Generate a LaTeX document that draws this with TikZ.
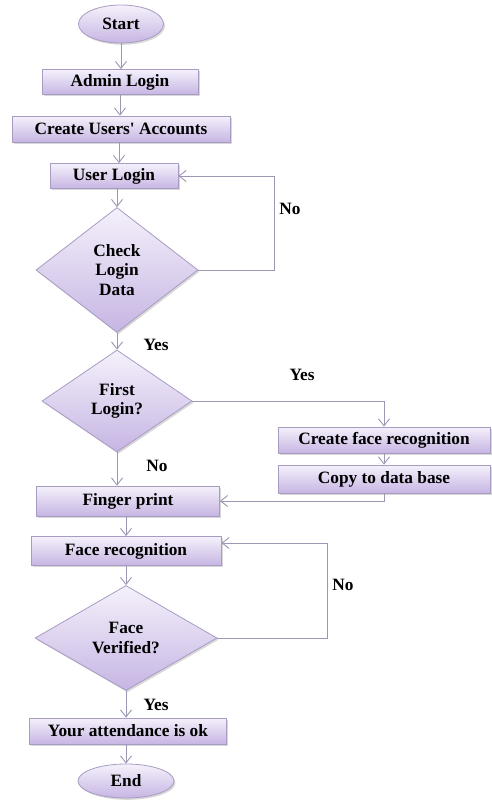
\documentclass[tikz,border=0pt]{standalone}
\usepackage{fontspec}
\setmainfont{Liberation Serif}
\usetikzlibrary{shapes.geometric,arrows.meta,shadows}
\definecolor{boxtop}{HTML}{F5F1FB}
\definecolor{boxbot}{HTML}{C6B5E3}
\definecolor{boxline}{HTML}{A89CC3}
\definecolor{arrline}{HTML}{9C97B2}
\tikzset{
  base/.style={draw=boxline, line width=0.8pt, top color=boxtop, bottom color=boxbot,
    font=\fontsize{17.3}{19.5}\selectfont\bfseries, align=center, inner sep=0pt,
    drop shadow={opacity=0.3, shadow xshift=1.5pt, shadow yshift=-1.8pt}},
  procbox/.style={base, rectangle},
  termbox/.style={base, ellipse},
  decbox/.style={base, diamond},
  arr/.style={draw=arrline, line width=0.9pt, -{Straight Barb[length=7pt,width=11pt]}},
  lbl/.style={font=\fontsize{17.3}{19.5}\selectfont\bfseries, inner sep=0pt}
}
\begin{document}
\begin{tikzpicture}[x=1pt,y=-1pt]
\fill[white] (0,0) rectangle (492,801);
\useasboundingbox (0,0) rectangle (492,801);
\node[termbox, minimum width=85pt, minimum height=38pt] (start) at (121,24) {Start};
\node[procbox, minimum width=156pt, minimum height=25pt] (admin) at (120,82) {Admin Login};
\node[procbox, minimum width=218pt, minimum height=26pt] (create) at (121,129) {Create Users\textquotesingle{} Accounts};
\node[procbox, minimum width=128pt, minimum height=25pt] (ulogin) at (114,176) {User Login};
\node[decbox, aspect=1.3, minimum width=162pt, minimum height=125pt] (check) at (117,270) {Check\\Login\\Data};
\node[decbox, aspect=1.47, minimum width=150pt, minimum height=102pt] (first) at (117,401) {First\\Login?};
\node[procbox, minimum width=212pt, minimum height=26pt] (cfr) at (384,440) {Create face recognition};
\node[procbox, minimum width=212pt, minimum height=28pt] (copy) at (384,479) {Copy to data base};
\node[procbox, minimum width=183pt, minimum height=30pt] (finger) at (128,501) {Finger print};
\node[procbox, minimum width=190pt, minimum height=29pt] (facerec) at (126,551) {Face recognition};
\node[decbox, aspect=1.73, minimum width=182pt, minimum height=105pt] (fv) at (126,638) {Face\\Verified?};
\node[procbox, minimum width=197pt, minimum height=26pt] (att) at (128,731) {Your attendance is ok};
\node[termbox, minimum width=96pt, minimum height=34pt] (end) at (126,781) {End};

\coordinate (c1) at (274,176);
\coordinate (c3) at (327,543);

\draw[arr] (start.south) -- (start.south |- admin.north);
\draw[arr] (admin.south) -- (admin.south |- create.north);
\draw[arr] (create.south -| ulogin.north) ++(5,0) -- ([xshift=5pt]ulogin.north);
\draw[arr] (ulogin.south) ++(3,0) -- (check.north);
\draw[arr] (check.south) -- (first.north);
\draw[arr] (check.east) -| (c1) -- (ulogin.east);
\draw[arr] (first.east) -| (cfr.north);
\draw[arr] (cfr.south) -- (copy.north);
\draw[arr] (copy.south) |- (finger.east);
\draw[arr] (first.south) -- (first.south |- finger.north);
\draw[arr] (finger.south -| facerec.north) -- (facerec.north);
\draw[arr] (facerec.south) -- (fv.north);
\draw[arr] (fv.east) -| (c3) -- (facerec.east |- c3);
\draw[arr] (fv.south) -- (fv.south |- att.north);
\draw[arr] (att.south -| end.north) -- (end.north);

\node[lbl] (l1) at (290,209) {No};
\node[lbl] (l2) at (156,345) {Yes};
\node[lbl] (l3) at (302,375) {Yes};
\node[lbl] (l4) at (157,466) {No};
\node[lbl] (l5) at (343,585) {No};
\node[lbl] (l6) at (156,705) {Yes};
\end{tikzpicture}
\end{document}
